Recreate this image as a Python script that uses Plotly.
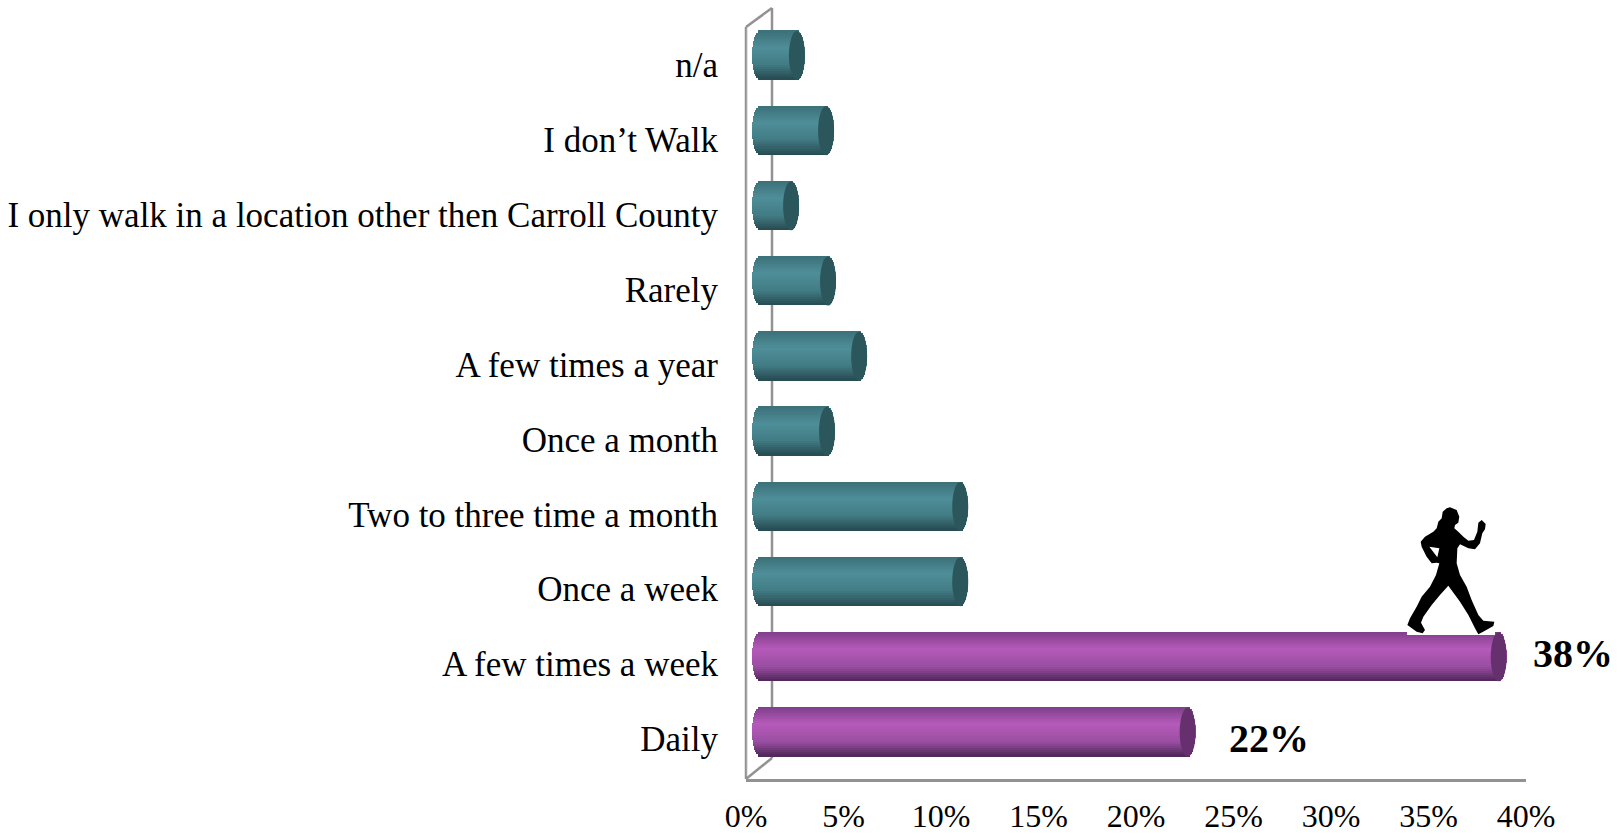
import math
import plotly.graph_objects as go

categories = ["Daily", "A few times a week", "Once a week", "Two to three time a month",
              "Once a month", "A few times a year", "Rarely",
              "I only walk in a location other then Carroll County", "I don’t Walk", "n/a"]
values = [22, 38, 10.3, 10.3, 3.45, 5.1, 3.5, 1.6, 3.4, 1.9]
highlight = [True, True, False, False, False, False, False, False, False, False]
data_labels = {0: "22%", 1: "38%"}
tick_vals = [0, 5, 10, 15, 20, 25, 30, 35, 40]
tick_text = ["0%", "5%", "10%", "15%", "20%", "25%", "30%", "35%", "40%"]

W, H = 1623, 834
L, R, T, B = 746, 1526, 27, 779
FONT = "Liberation Serif"
PX_PER_X = 19.44
CAP = 8
N = 24
BAR_H = 49 / 75.2

def lerp(a, b, t):
    return tuple(a[i] + (b[i] - a[i]) * t for i in range(3))

def ramp(stops, t):
    for (t0, c0), (t1, c1) in zip(stops, stops[1:]):
        if t <= t1:
            return lerp(c0, c1, (t - t0) / (t1 - t0))
    return stops[-1][1]

TEAL = [(0, (60, 112, 120)), (0.35, (78, 142, 152)), (0.7, (66, 124, 133)), (1, (38, 74, 80))]
PURP = [(0, (126, 62, 138)), (0.35, (182, 90, 186)), (0.7, (154, 78, 162)), (1, (78, 38, 88))]

def css(c):
    return "rgb(%d,%d,%d)" % tuple(round(v) for v in c)

fig = go.Figure()
fig.add_trace(go.Bar(x=[0] * len(categories), y=categories, orientation="h", xaxis="x", yaxis="y",
                     marker_color="rgba(0,0,0,0)", hoverinfo="skip", showlegend=False))

for s in range(N):
    t = (s + 0.5) / N
    half = CAP / PX_PER_X * math.sqrt(max(0, 1 - (2 * t - 1) ** 2))
    colors = [css(ramp(PURP if h else TEAL, t)) for h in highlight]
    fig.add_trace(go.Bar(
        x=[v + 2 * half for v in values],
        base=[-half] * len(values),
        y=list(range(len(values))),
        orientation="h",
        width=BAR_H / N * 1.25,
        offset=BAR_H / 2 - BAR_H * (s + 1) / N,
        marker=dict(color=colors, line_width=0),
        xaxis="x2", yaxis="y2", showlegend=False, hoverinfo="skip",
    ))

shapes = []
for i, (v, h) in enumerate(zip(values, highlight)):
    shapes.append(dict(type="circle", xref="x2", yref="y2", xsizemode="pixel", ysizemode="pixel",
                       xanchor=v, yanchor=i, x0=-CAP, x1=CAP, y0=-24.5, y1=24.5,
                       fillcolor="#66306e" if h else "#2b565b", line_width=0, layer="above"))

def px(x):
    return (x - L) / (R - L)

def py(y):
    return (B - y) / (B - T)

GRAY = "#929292"
def seg(x0, y0, x1, y1):
    return dict(type="line", xref="paper", yref="paper", x0=px(x0), y0=py(y0), x1=px(x1), y1=py(y1),
                line=dict(color=GRAY, width=2.5), layer="below")
shapes += [seg(746, 27, 746, 779), seg(746, 27, 772, 8), seg(772, 8, 772, 758), seg(746, 779, 772, 758)]

# walker silhouette, traced in pixels of the page
ox, oy = 1400, 500
outline = [(150,22),(170,30),(178,50),(175,68),(165,75),(163,85),(175,95),(190,110),(205,122),(222,120),
           (232,95),(235,68),(245,60),(257,72),(255,88),(247,100),(240,130),(225,148),(205,145),(180,133),
           (172,145),(170,190),(180,225),(200,260),(215,300),(235,345),(250,362),(283,365),(280,378),(255,392),
           (235,403),(225,385),(205,345),(180,305),(145,257),(120,285),(95,315),(70,350),(63,368),(75,390),
           (68,400),(50,395),(22,375),(30,355),(50,320),(65,290),(90,260),(108,225),(118,190),(110,188),
           (95,190),(80,170),(65,140),(62,125),(75,110),(100,95),(110,85),(115,65),(125,55),(128,35),(140,25)]
hole = [(88,140),(112,172),(118,145)]
def sub(points):
    return "M " + " L ".join("%.4f,%.4f" % (px(ox + a / 3), py(oy + b / 3)) for a, b in points) + " Z"
shapes.append(dict(type="rect", xref="paper", yref="paper", x0=px(1407), x1=px(1495), y0=py(635), y1=py(620),
                   fillcolor="white", line_width=0, layer="above"))
shapes.append(dict(type="path", xref="paper", yref="paper", path=sub(outline) + " " + sub(hole),
                   fillcolor="black", line_width=0, layer="above"))

label_shift = {0: (39, -6), 1: (32, 3)}
annotations = []
for i, txt in data_labels.items():
    annotations.append(dict(x=values[i], y=i, xref="x2", yref="y2", text="<b>%s</b>" % txt, showarrow=False,
                            xanchor="left", xshift=label_shift[i][0], yshift=label_shift[i][1],
                            font=dict(family=FONT, size=40, color="black")))

fig.update_layout(
    width=W, height=H, autosize=False, barmode="overlay", bargap=0,
    paper_bgcolor="white", plot_bgcolor="white", showlegend=False,
    margin=dict(l=L, r=W - R, t=T, b=H - B, pad=0),
    font=dict(family=FONT, color="black"),
    shapes=shapes, annotations=annotations,
    xaxis=dict(range=[0, 40], tickvals=tick_vals, ticktext=tick_text, showgrid=False, zeroline=False,
               showline=True, linecolor=GRAY, linewidth=2.5, ticks="", automargin=False,
               ticklabelstandoff=7, tickfont=dict(size=32, family=FONT)),
    yaxis=dict(type="category", categoryorder="array", categoryarray=categories, range=[-0.534, 9.507],
               showgrid=False, zeroline=False, showline=False, ticks="",
               automargin=False, ticklabelstandoff=27, tickfont=dict(size=35, family=FONT)),
    xaxis2=dict(overlaying="x", range=[-14 / PX_PER_X, 766 / PX_PER_X], visible=False, automargin=False),
    yaxis2=dict(overlaying="y", range=[-47 / 75.2, 9 + 28.5 / 75.2], visible=False, automargin=False),
)
fig.write_html("out.html", config={"displayModeBar": False}, post_script="document.body.style.margin='0';")
